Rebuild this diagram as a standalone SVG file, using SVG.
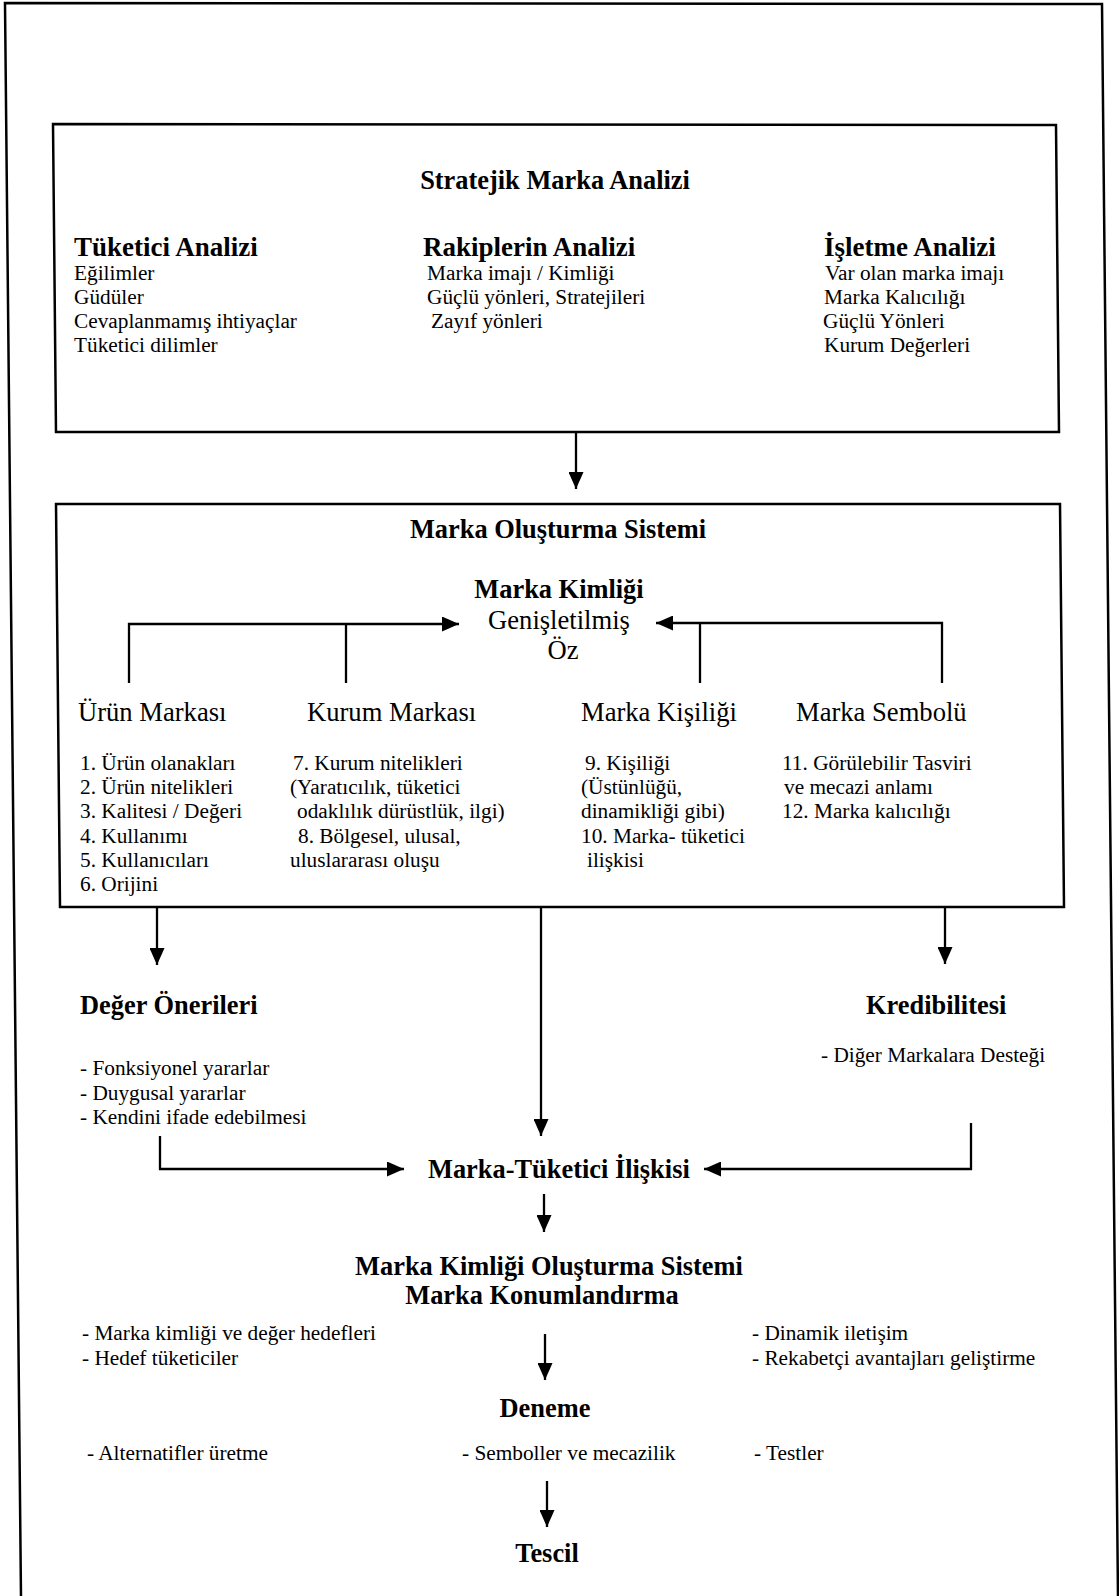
<svg xmlns="http://www.w3.org/2000/svg" width="1119" height="1596" viewBox="0 0 1119 1596">
<defs>
<style>
text{font-family:"Liberation Serif","Times New Roman",serif;fill:#000}
.b{font-size:26.4px;font-weight:bold}
.bh{font-size:27px;font-weight:bold}
.h{font-size:26.6px}
.t{font-size:21.3px}
.m{text-anchor:middle}
.frame{fill:none;stroke:#000;stroke-width:2.5}
.ln{fill:none;stroke:#000;stroke-width:2.3}
</style>
<marker id="ah" markerUnits="userSpaceOnUse" markerWidth="17" markerHeight="15" refX="17" refY="7.5" orient="auto">
<path d="M0,0 L17,7.5 L0,15 Z" fill="#000"/>
</marker>
</defs>
<rect width="1119" height="1596" fill="#fff"/>
<path class="frame" d="M21,1598 L5,3 L1102,4 L1118,1598"/>

<g id="stratejik-marka-analizi">
<path class="frame" d="M53,124 L1056,125 L1059,432 L56,432 Z"/>
<text class="b m" x="555" y="189">Stratejik Marka Analizi</text>
<text class="bh" x="74" y="256">Tüketici Analizi</text>
<text class="t" x="74" y="280">Eğilimler</text>
<text class="t" x="74" y="304">Güdüler</text>
<text class="t" x="74" y="328">Cevaplanmamış ihtiyaçlar</text>
<text class="t" x="74" y="352">Tüketici dilimler</text>
<text class="bh" x="423" y="256">Rakiplerin Analizi</text>
<text class="t" x="427" y="280">Marka imajı / Kimliği</text>
<text class="t" x="427" y="304">Güçlü yönleri, Stratejileri</text>
<text class="t" x="431" y="328">Zayıf yönleri</text>
<text class="bh" x="824" y="256">İşletme Analizi</text>
<text class="t" x="825" y="280">Var olan marka imajı</text>
<text class="t" x="824" y="304">Marka Kalıcılığı</text>
<text class="t" x="823" y="328">Güçlü Yönleri</text>
<text class="t" x="824" y="352">Kurum Değerleri</text>
</g>

<g id="marka-olusturma-sistemi">
<path class="frame" d="M56,504 L1060,504 L1064,907 L60,907 Z"/>
<text class="b m" x="558" y="538">Marka Oluşturma Sistemi</text>
</g>

<g id="marka-kimligi">
<text class="b m" x="559" y="598">Marka Kimliği</text>
<text class="h m" x="559" y="629">Genişletilmiş</text>
<text class="h m" x="563" y="659">Öz</text>
</g>

<g id="urun-markasi">
<text class="h" x="78" y="721">Ürün Markası</text>
<text class="t" x="80" y="770">1. Ürün olanakları</text>
<text class="t" x="80" y="794">2. Ürün nitelikleri</text>
<text class="t" x="80" y="818">3. Kalitesi / Değeri</text>
<text class="t" x="80" y="843">4. Kullanımı</text>
<text class="t" x="80" y="867">5. Kullanıcıları</text>
<text class="t" x="80" y="891">6. Orijini</text>
</g>

<g id="kurum-markasi">
<text class="h" x="307" y="721">Kurum Markası</text>
<text class="t" x="293" y="770">7. Kurum nitelikleri</text>
<text class="t" x="290" y="794">(Yaratıcılık, tüketici</text>
<text class="t" x="297" y="818">odaklılık dürüstlük, ilgi)</text>
<text class="t" x="298" y="843">8. Bölgesel, ulusal,</text>
<text class="t" x="290" y="867">uluslararası oluşu</text>
</g>

<g id="marka-kisiligi">
<text class="h" x="581" y="721">Marka Kişiliği</text>
<text class="t" x="585" y="770">9. Kişiliği</text>
<text class="t" x="581" y="794">(Üstünlüğü,</text>
<text class="t" x="581" y="818">dinamikliği gibi)</text>
<text class="t" x="581" y="843">10. Marka- tüketici</text>
<text class="t" x="587" y="867">ilişkisi</text>
</g>

<g id="marka-sembolu">
<text class="h" x="796" y="721">Marka Sembolü</text>
<text class="t" x="782" y="770">11. Görülebilir Tasviri</text>
<text class="t" x="784" y="794">ve mecazi anlamı</text>
<text class="t" x="782" y="818">12. Marka kalıcılığı</text>
</g>

<g id="deger-onerileri">
<text class="b" x="80" y="1014">Değer Önerileri</text>
<text class="t" x="80" y="1075">- Fonksiyonel yararlar</text>
<text class="t" x="80" y="1100">- Duygusal yararlar</text>
<text class="t" x="80" y="1124">- Kendini ifade edebilmesi</text>
</g>

<g id="kredibilitesi">
<text class="b" x="866" y="1014">Kredibilitesi</text>
<text class="t" x="821" y="1062">- Diğer Markalara Desteği</text>
</g>

<g id="marka-tuketici-iliskisi">
<text class="b" x="428" y="1178">Marka-Tüketici İlişkisi</text>
</g>

<g id="marka-konumlandirma">
<text class="b m" x="549" y="1275">Marka Kimliği Oluşturma Sistemi</text>
<text class="b m" x="542" y="1304">Marka Konumlandırma</text>
<text class="t" x="82" y="1340">- Marka kimliği ve değer hedefleri</text>
<text class="t" x="82" y="1365">- Hedef tüketiciler</text>
<text class="t" x="752" y="1340">- Dinamik iletişim</text>
<text class="t" x="752" y="1365">- Rekabetçi avantajları geliştirme</text>
</g>

<g id="deneme">
<text class="b m" x="545" y="1417">Deneme</text>
<text class="t" x="87" y="1460">- Alternatifler üretme</text>
<text class="t" x="462" y="1460">- Semboller ve mecazilik</text>
<text class="t" x="754" y="1460">- Testler</text>
</g>

<g id="tescil">
<text class="b m" x="547" y="1562">Tescil</text>
</g>

<g id="connectors">
<line class="ln" x1="576" y1="432" x2="576" y2="489" marker-end="url(#ah)"/>
<path class="ln" d="M129,683 L129,624 L459,624" marker-end="url(#ah)"/>
<line class="ln" x1="346" y1="624" x2="346" y2="683"/>
<path class="ln" d="M942,683 L942,623 L656,623" marker-end="url(#ah)"/>
<line class="ln" x1="700" y1="623" x2="700" y2="683"/>
<line class="ln" x1="157" y1="907" x2="157" y2="965" marker-end="url(#ah)"/>
<line class="ln" x1="541" y1="907" x2="541" y2="1136" marker-end="url(#ah)"/>
<line class="ln" x1="945" y1="907" x2="945" y2="964" marker-end="url(#ah)"/>
<path class="ln" d="M160,1136 L160,1169 L404,1169" marker-end="url(#ah)"/>
<path class="ln" d="M971,1123 L971,1169 L704,1169" marker-end="url(#ah)"/>
<line class="ln" x1="544" y1="1194" x2="544" y2="1232" marker-end="url(#ah)"/>
<line class="ln" x1="545" y1="1334" x2="545" y2="1380" marker-end="url(#ah)"/>
<line class="ln" x1="547" y1="1481" x2="547" y2="1527" marker-end="url(#ah)"/>
</g>
</svg>
